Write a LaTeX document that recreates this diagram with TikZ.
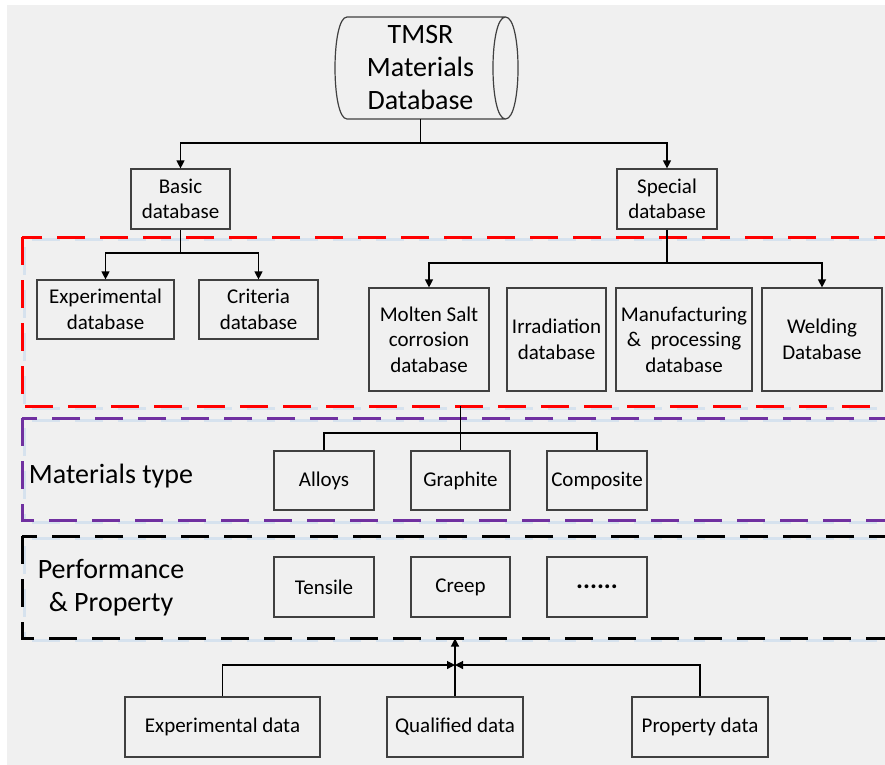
\documentclass[tikz,border=0pt]{standalone}
\usepackage{fontspec}
\setmainfont{Carlito}
\usetikzlibrary{arrows.meta}
\definecolor{bg}{HTML}{F0F0F0}
\definecolor{boxline}{HTML}{404040}
\definecolor{dred}{HTML}{FF0000}
\definecolor{dpurple}{HTML}{7030A0}
\definecolor{shblue}{HTML}{D6E2EE}
\begin{document}
\begin{tikzpicture}[x=1pt,y=-1pt,
  box/.style={draw=boxline, line width=1.2pt, align=center, inner sep=0pt,
    font=\fontsize{21}{25.5}\selectfont},
  bigtext/.style={align=center, inner sep=0pt, font=\fontsize{28}{33}\selectfont},
  conn/.style={draw=black, line width=1.2pt},
  arr/.style={conn, -{Triangle[length=8pt,width=8pt]}},
  regdash/.style={line width=3pt, dash pattern=on 28pt off 15pt},
  shadowdash/.style={line width=3pt, dash pattern=on 28pt off 15pt, draw=shblue}
]
\useasboundingbox (0,0) rectangle (885,764);
\clip (0,0) rectangle (885,764);
\fill[bg] (7,5) rectangle (890,770);

% database cylinder
\node[bigtext, minimum width=171pt, minimum height=102pt] (db) at (420.5,68) {TMSR\\Materials\\Database};
\draw[boxline, line width=1.2pt]
  (347,17) -- (505.5,17)
  (347,119) -- (505.5,119)
  (347,17) .. controls (331,17) and (331,119) .. (347,119)
  (505.5,17) .. controls (522.2,17) and (522.2,119) .. (505.5,119)
             .. controls (488.8,119) and (488.8,17) .. (505.5,17);

% dashed regions (soft shadows first)
\foreach \ya/\yb in {237/406, 418/520, 536/638}{
  \draw[shadowdash] (32,\ya+2.5) -- (900,\ya+2.5);
  \draw[shadowdash] (32,\yb+2.5) -- (900,\yb+2.5);
  \draw[shadowdash] (24,\ya+10) -- (24,\yb+2);
}
\draw[regdash, draw=dred] (22,237) rectangle (895,406);
\draw[regdash, draw=dpurple] (22,418) rectangle (895,520);
\draw[regdash, draw=black] (22,536) rectangle (895,638);

% level 1
\node[box, minimum width=99pt, minimum height=60pt] (basic) at (180.5,199) {Basic\\database};
\node[box, minimum width=100pt, minimum height=60pt] (special) at (667,199) {Special\\database};

% level 2
\node[box, minimum width=137pt, minimum height=59pt] (exp) at (105.5,309.5) {Experimental\\database};
\node[box, minimum width=119pt, minimum height=59pt] (crit) at (258.5,309.5) {Criteria\\database};
\node[box, minimum width=120pt, minimum height=103pt] (molten) at (429,339.5) {Molten Salt\\corrosion\\database};
\node[box, minimum width=99pt, minimum height=103pt] (irrad) at (556.5,339.5) {Irradiation\\database};
\node[box, minimum width=136pt, minimum height=103pt] (manuf) at (684,339.5) {Manufacturing\\\&\ \ processing\\database};
\node[box, minimum width=120pt, minimum height=103pt] (weld) at (822,339.5) {Welding\\Database};

% materials type
\node[bigtext] (mtype) at (111,476) {Materials type};
\node[box, minimum width=100pt, minimum height=59pt] (alloys) at (324,480.5) {Alloys};
\node[box, minimum width=99pt, minimum height=59pt] (graphite) at (460.5,480.5) {Graphite};
\node[box, minimum width=100pt, minimum height=59pt] (composite) at (597,480.5) {Composite};

% performance
\node[bigtext] (perf) at (111,588) {Performance\\\& Property};
\node[box, minimum width=100pt, minimum height=60pt] (tensile) at (324,587) {Tensile};
\node[box, minimum width=99pt, minimum height=60pt] (creep) at (460.5,587) {Creep};
\node[box, minimum width=100pt, minimum height=60pt, font=\fontsize{26}{30}\selectfont\bfseries] (dots) at (597,587) {......};

% data sources
\node[box, minimum width=195pt, minimum height=60pt] (expdata) at (222.5,727) {Experimental data};
\node[box, minimum width=136pt, minimum height=60pt] (qual) at (455,727) {Qualified data};
\node[box, minimum width=136pt, minimum height=60pt] (prop) at (700,727) {Property data};

% coordinates
\coordinate (split1) at (420.5,143);
\coordinate (split2) at (180.5,253);
\coordinate (split3) at (667,263);
\coordinate (redbot) at (460.5,406);
\coordinate (split4) at (460.5,433);
\coordinate (blkbot) at (455,638.5);
\coordinate (junc) at (455,665);

% connectors
\draw[conn] (db.south) -- (split1);
\draw[arr] (split1) -| (basic.north);
\draw[arr] (split1) -| (special.north);
\draw[conn] (basic.south) -- (split2);
\draw[arr] (split2) -| (exp.north);
\draw[arr] (split2) -| (crit.north);
\draw[conn] (special.south) -- (split3);
\draw[arr] (split3) -| (molten.north);
\draw[arr] (split3) -| (weld.north);
\draw[conn] (redbot) -- (graphite.north);
\draw[conn] (split4) -| (alloys.north);
\draw[conn] (split4) -| (composite.north);
\draw[arr] (qual.north) -- (blkbot);
\draw[arr] (expdata.north) |- (junc);
\draw[arr] (prop.north) |- (junc);
\end{tikzpicture}
\end{document}
